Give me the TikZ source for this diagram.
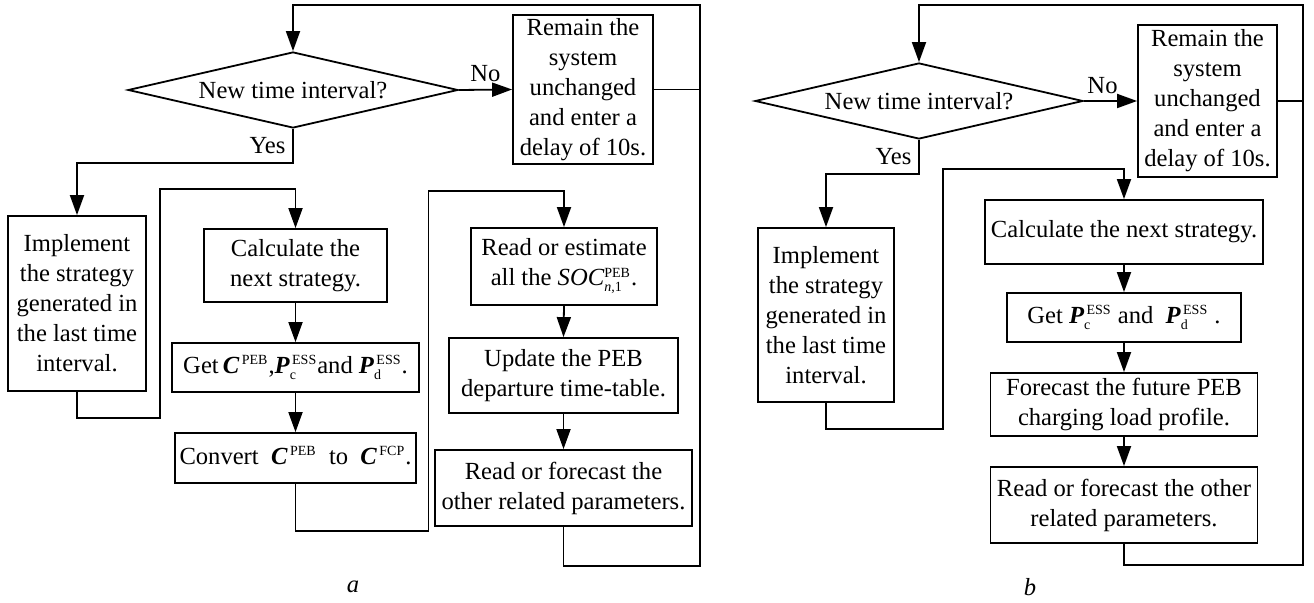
\documentclass[tikz,border=0pt]{standalone}
\usepackage{fontspec}
\setmainfont{Liberation Serif}
\usetikzlibrary{arrows.meta,shapes.geometric}

\newcommand{\qsym}[3]{\textbf{\textit{#1}}$^{\mbox{\fontsize{7}{7}\selectfont\,#2}}_{\mbox{\fontsize{7}{7}\selectfont #3}}$}

\begin{document}
\begin{tikzpicture}[x=0.5pt,y=-0.5pt,align=center,font=\fontsize{12.3}{15}\selectfont,
    line width=0.9pt,>={Triangle[length=10pt,width=7pt]},
    box/.style={rectangle,draw=black,inner sep=1pt},
    decision/.style={diamond,draw=black,inner sep=0pt,aspect=4.3}]
      \useasboundingbox (0,0) rectangle (1314,603);

      %%% a
      %decision and delay
      \node[decision,minimum width=165pt,minimum height=38pt] (diaA) at (293,90) {New time interval?};
      \node[box,minimum width=70pt,minimum height=74.5pt] (remA) at (583,89.5) {Remain the\\system\\unchanged\\and enter a\\delay of 10s.};
      \coordinate (rA) at (700,5);

      %strategy boxes
      \node[box,minimum width=69pt,minimum height=87.5pt] (implA) at (77,303.5) {Implement\\the strategy\\generated in\\the last time\\interval.};
      \node[box,minimum width=91.5pt,minimum height=36.5pt] (calcA) at (295.5,265.5) {Calculate the\\next strategy.};
      \node[box,minimum width=123.5pt,minimum height=24.5pt] (getA) at (295.5,367.5) {Get\,\qsym{C}{PEB}{},\qsym{P}{ESS}{c}and \qsym{P}{ESS}{d}.};
      \node[box,minimum width=120.5pt,minimum height=25pt] (convA) at (295.5,458) {Convert \ \qsym{C}{PEB}{} \ to \ \qsym{C}{FCP}{}.};

      %parameter boxes
      \node[box,minimum width=93pt,minimum height=38.5pt] (readA) at (564,266.5) {Read or estimate\\all the \textit{SOC}$^{\mbox{\fontsize{7}{7}\selectfont PEB}}_{\mbox{\fontsize{7}{7}\selectfont\textit{n},1}}$.};
      \node[box,minimum width=114.5pt,minimum height=37.5pt] (updA) at (563.5,375.5) {Update the PEB\\departure time-table.};
      \node[box,minimum width=128.5pt,minimum height=38pt] (othA) at (563.5,488) {Read or forecast the\\other related parameters.};

      %connectors
      \draw[->] (diaA.east) -- node[above]{No} (remA.west);
      \draw (remA.east) -- (remA.east -| rA);
      \draw[->] (othA.south) -- ++(0,39) -| (rA) -| (diaA.north);
      \draw[->] (diaA.south) -- node[left]{Yes} ++(0,34) -| (implA.north);
      \draw[->] (implA.south) -- ++(0,26) -| ++(83,-229) -| (calcA.north);
      \draw[->] (calcA.south) -- (getA.north);
      \draw[->] (getA.south) -- (convA.north);
      \draw[->] (convA.south) -- ++(0,47) -| ++(133,-340) -| (readA.north);
      \draw[->] (readA.south) -- (updA.north);
      \draw[->] (updA.south) -- (othA.north);

      \node (capA) at (353,587) {\textit{a}};

      %%% b
      %decision and delay
      \node[decision,minimum width=164pt,minimum height=38pt] (diaB) at (919,101) {New time interval?};
      \node[box,minimum width=69.5pt,minimum height=76pt] (remB) at (1207.5,101) {Remain the\\system\\unchanged\\and enter a\\delay of 10s.};
      \coordinate (rB) at (1303,5);

      %strategy boxes
      \node[box,minimum width=68pt,minimum height=87pt] (implB) at (826,315) {Implement\\the strategy\\generated in\\the last time\\interval.};
      \node[box,minimum width=139pt,minimum height=32pt] (calcB) at (1124,232) {Calculate the next strategy.};
      \node[box,minimum width=117pt,minimum height=24.5pt] (getB) at (1124,317.5) {Get \qsym{P}{ESS}{c} and \ \qsym{P}{ESS}{d} .};
      \node[box,minimum width=133.5pt,minimum height=31.5pt] (fcB) at (1124,404.5) {Forecast the future PEB\\charging load profile.};
      \node[box,minimum width=133.5pt,minimum height=38pt] (othB) at (1124,505) {Read or forecast the other\\related parameters.};

      %connectors
      \draw[->] (diaB.east) -- node[above,pos=0.35]{No} (remB.west);
      \draw (remB.east) -- (remB.east -| rB);
      \draw[->] (othB.south) -- ++(0,21) -| (rB) -| (diaB.north);
      \draw[->] (diaB.south) -- node[left]{Yes} ++(0,34) -| (implB.north);
      \draw[->] (implB.south) -- ++(0,26) -| ++(117,-260) -| (calcB.north);
      \draw[->] (calcB.south) -- (getB.north);
      \draw[->] (getB.south) -- (fcB.north);
      \draw[->] (fcB.south) -- (othB.north);

      \node (capB) at (1030,587) {\textit{b}};
\end{tikzpicture}
\end{document}
